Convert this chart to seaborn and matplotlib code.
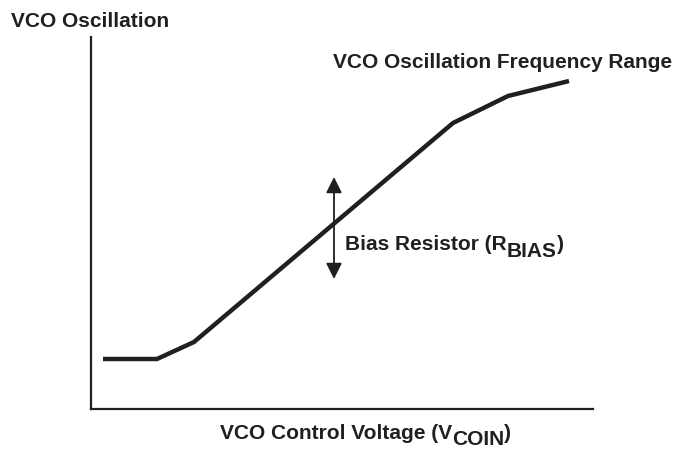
import matplotlib.pyplot as plt
import seaborn as sns
import pandas as pd

# VCO transfer curve (arbitrary units)
control_voltage = [12, 66, 103, 362, 417, 478]
osc_frequency = [50, 50, 67, 286, 313, 328]

# bias resistor arrow range
bias_x = [243, 243]
bias_y = [130, 232]

sns.set_theme(style="white")
plt.rcParams['font.family'] = ['Liberation Sans', 'DejaVu Sans']

ink = '#231f20'
df = pd.DataFrame({'v': control_voltage, 'f': osc_frequency})

fig = plt.figure(figsize=(6.79, 4.5), dpi=100)
ax = fig.add_axes([91 / 679, 41 / 450, 502 / 679, 372 / 450])

sns.lineplot(data=df, x='v', y='f', ax=ax, color=ink, linewidth=3.2,
             solid_capstyle='butt', solid_joinstyle='miter')

ax.set_xlim(0, 502)
ax.set_ylim(0, 372)
ax.set_xticks([])
ax.set_yticks([])
ax.set_xlabel('')
ax.set_ylabel('')
sns.despine(ax=ax)
for s in ['left', 'bottom']:
    ax.spines[s].set_color(ink)
    ax.spines[s].set_linewidth(1.6)

# double arrow for bias resistor
ax.annotate('', xy=(bias_x[0], bias_y[1]), xytext=(bias_x[0], bias_y[0]),
            arrowprops=dict(arrowstyle='<|-|>', color=ink, lw=1.3,
                            mutation_scale=24, shrinkA=0, shrinkB=0))

fs = 15
sub = 5  # subscript drop, points
t1 = ax.text(254, 159, 'Bias Resistor (R', fontsize=fs, fontweight='bold',
             color=ink, va='baseline')
t2 = ax.annotate('BIAS', xy=(1, 0), xycoords=t1, xytext=(0, -sub),
                 textcoords='offset points', fontsize=fs, fontweight='bold',
                 color=ink, va='bottom')
ax.annotate(')', xy=(1, 0), xycoords=t2, xytext=(0, sub),
            textcoords='offset points', fontsize=fs, fontweight='bold',
            color=ink, va='bottom')

ax.text(242, 341, 'VCO Oscillation Frequency Range', fontsize=fs,
        fontweight='bold', color=ink, va='baseline')

fig.text(11 / 679, 1 - 27 / 450, 'VCO Oscillation', fontsize=fs,
         fontweight='bold', color=ink, va='baseline')

b1 = fig.text(220 / 679, 1 - 439 / 450, 'VCO Control Voltage (V', fontsize=fs,
              fontweight='bold', color=ink, va='baseline')
b2 = ax.annotate('COIN', xy=(1, 0), xycoords=b1, xytext=(0, -4),
                 textcoords='offset points', fontsize=fs, fontweight='bold',
                 color=ink, va='bottom', annotation_clip=False)
ax.annotate(')', xy=(1, 0), xycoords=b2, xytext=(0, 4),
            textcoords='offset points', fontsize=fs, fontweight='bold',
            color=ink, va='bottom', annotation_clip=False)

fig.savefig('out.png', dpi=100)
